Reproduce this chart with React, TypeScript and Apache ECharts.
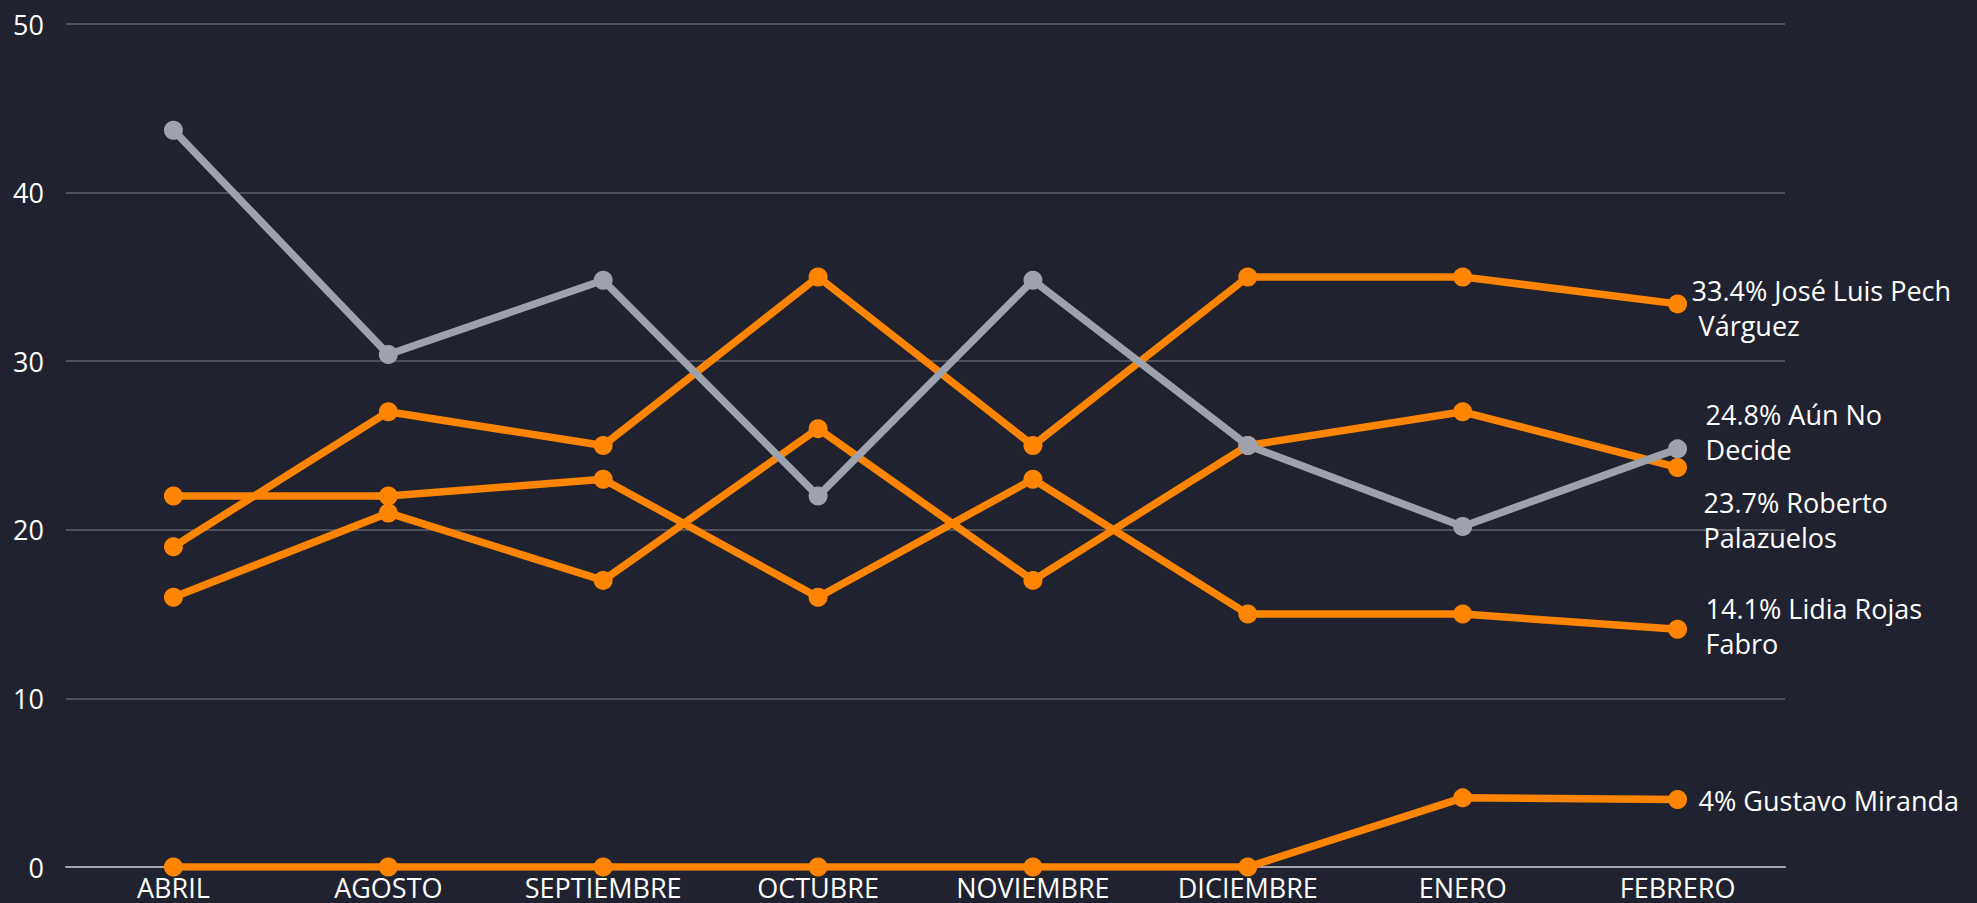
import React, { useEffect, useRef } from "react";
import * as echarts from "echarts";

const months = ["ABRIL", "AGOSTO", "SEPTIEMBRE", "OCTUBRE", "NOVIEMBRE", "DICIEMBRE", "ENERO", "FEBRERO"];

const pech = [19, 27, 25, 35, 25, 35, 35, 33.4];
const noDecide = [43.7, 30.4, 34.8, 22, 34.8, 25, 20.2, 24.8];
const palazuelos = [16, 21, 17, 26, 17, 25, 27, 23.7];
const rojas = [22, 22, 23, 16, 23, 15, 15, 14.1];
const miranda = [0, 0, 0, 0, 0, 0, 4.1, 4];

const yTicks = { min: 0, max: 50, interval: 10 };

const ORANGE = "#ff8500";
const GRAY = "#9ea2ad";
const BG = "#20232f";
const FS = 27;

type S = { name: string; label: string; data: number[]; color: string; offset: [number, number]; z: number };

const seriesDefs: S[] = [
  { name: "Gustavo Miranda", label: "4% Gustavo Miranda", data: miranda, color: ORANGE, offset: [13, 1], z: 2 },
  { name: "Lidia Rojas Fabro", label: "14.1% Lidia Rojas\nFabro", data: rojas, color: ORANGE, offset: [20, -3], z: 2 },
  { name: "Roberto Palazuelos", label: "23.7% Roberto\nPalazuelos", data: palazuelos, color: ORANGE, offset: [18, 53], z: 2 },
  { name: "José Luis Pech Várguez", label: "33.4% José Luis Pech\n Várguez", data: pech, color: ORANGE, offset: [6, 4], z: 2 },
  { name: "Aún No Decide", label: "24.8% Aún No\nDecide", data: noDecide, color: GRAY, offset: [20, -17], z: 3 },
];

export default function App() {
  const ref = useRef<HTMLDivElement>(null);
  useEffect(() => {
    if (!ref.current) return;
    const chart = echarts.init(ref.current, undefined, { renderer: "svg" });
    chart.setOption({
      animation: false,
      backgroundColor: BG,
      grid: { left: 66, right: 192, top: 24, bottom: 36, containLabel: false },
      xAxis: {
        type: "category",
        data: months,
        boundaryGap: true,
        axisLine: { show: true, lineStyle: { color: "#a3a4a8", width: 2 } },
        axisTick: { show: false },
        axisLabel: {
          color: "#ffffff",
          fontFamily: "Open Sans",
          fontSize: FS,
          margin: 7,
          interval: 0,
        },
        splitLine: { show: false },
      },
      yAxis: {
        type: "value",
        min: yTicks.min,
        max: yTicks.max,
        interval: yTicks.interval,
        axisLine: { show: false },
        axisTick: { show: false },
        axisLabel: {
          color: "#ffffff",
          fontFamily: "Open Sans",
          fontSize: FS,
          margin: 22,
        },
        splitLine: { show: true, lineStyle: { color: "#5f626d", width: 1.5 } },
      },
      series: seriesDefs.map((s) => ({
        name: s.name,
        type: "line",
        data: s.data,
        z: s.z,
        symbol: "circle",
        symbolSize: 19,
        lineStyle: { color: s.color, width: 7.5 },
        itemStyle: { color: s.color },
        emphasis: { disabled: true },
        endLabel: {
          show: true,
          formatter: () => s.label,
          color: "#ffffff",
          fontFamily: "Open Sans",
          fontSize: FS,
          lineHeight: 35,
          align: "left",
          verticalAlign: "middle",
          offset: s.offset,
        },
        labelLayout: { hideOverlap: false },
      })),
    });
    return () => chart.dispose();
  }, []);
  return <div ref={ref} style={{ width: 1977, height: 903, position: "absolute", left: 0, top: 0 }} />;
}
